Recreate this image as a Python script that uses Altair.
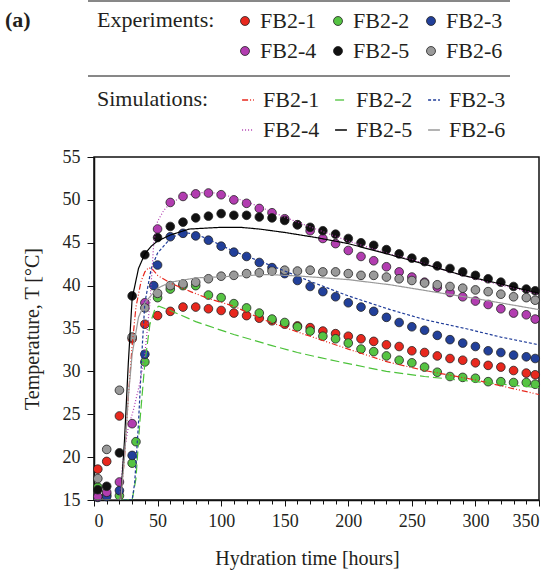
import altair as alt
import pandas as pd

FONT = "Liberation Serif"
TXT = "#231f20"

names = ["FB2-1", "FB2-2", "FB2-3", "FB2-4", "FB2-5", "FB2-6"]
sim_names = ["sim FB2-1", "sim FB2-2", "sim FB2-3", "sim FB2-4", "sim FB2-5", "sim FB2-6"]
colors = ["#e8281e", "#56c443", "#22409a", "#b23db0", "#111111", "#9a9a9a"]
sim_colors = ["#e8281e", "#4cc23a", "#1f3c99", "#b03cb0", "#000000", "#999999"]
dashes = [[6, 2, 1, 2, 1, 2], [9, 4], [3, 2], [1, 2], [1, 0], [1, 0]]

# ---------------- experiments ----------------
h_red = [3, 10, 20, 30, 40, 50, 60, 70, 80, 90, 100, 110, 120, 130, 140, 150, 160, 170, 180, 190, 200,
         210, 220, 230, 240, 250, 260, 270, 280, 290, 300, 310, 320, 330, 340, 347]
t_red = [18.6, 19.5, 24.8, 33.8, 35.5, 36.5, 37.0, 37.5, 37.5, 37.3, 37.1, 36.8, 36.5, 36.2, 35.9, 35.5,
         35.3, 35.1, 34.7, 34.4, 34.1, 33.8, 33.5, 33.1, 32.9, 32.4, 32.2, 31.8, 31.5, 31.3, 31.0, 30.7,
         30.5, 30.1, 29.8, 29.6]

h_green = [3, 10, 20, 30, 33, 40, 50, 60, 70, 80, 90, 100, 110, 120, 130, 140, 150, 160, 170, 180, 190,
           200, 210, 220, 230, 240, 250, 260, 270, 280, 290, 300, 310, 320, 330, 340, 347]
t_green = [16.5, 15.6, 15.5, 19.3, 21.8, 31.1, 38.6, 39.6, 40.0, 40.0, 38.9, 38.6, 37.9, 37.4, 36.8, 36.1,
           35.7, 35.2, 34.7, 34.1, 33.8, 33.3, 32.6, 32.3, 31.8, 31.3, 31.0, 30.5, 29.9, 29.4, 29.3, 29.2,
           28.8, 28.8, 28.7, 28.7, 28.5]

h_blue = [3, 10, 20, 30, 40, 47, 50, 60, 70, 80, 90, 100, 110, 120, 130, 140, 150, 160, 170, 180, 190,
          200, 210, 220, 230, 240, 250, 260, 270, 280, 290, 300, 310, 320, 330, 340, 347]
t_blue = [15.3, 15.4, 16.1, 20.2, 32.0, 40.0, 42.4, 45.7, 46.1, 45.8, 45.3, 44.6, 43.9, 43.4, 42.7, 42.1,
          41.4, 40.6, 39.9, 39.3, 38.7, 38.0, 37.5, 37.0, 36.3, 35.7, 35.2, 34.8, 34.2, 33.7, 33.3, 32.9,
          32.4, 32.2, 31.9, 31.7, 31.5]

h_mag = h_red
t_mag = [15.4, 15.9, 17.1, 23.9, 38.0, 46.6, 49.7, 50.4, 50.7, 50.8, 50.6, 50.0, 49.6, 49.0, 48.5, 47.8,
         47.1, 46.4, 45.5, 44.9, 44.1, 43.4, 42.9, 42.2, 41.6, 41.0, 40.4, 39.8, 39.2, 38.7, 38.2, 37.8,
         37.3, 36.8, 36.6, 36.1]

h_black = h_red
t_black = [16.2, 16.6, 20.5, 38.8, 43.6, 45.6, 46.9, 47.4, 47.9, 48.1, 48.4, 48.2, 48.2, 48.0, 47.9, 47.6,
           47.1, 46.8, 46.4, 46.0, 45.5, 45.0, 44.7, 44.2, 43.7, 43.2, 42.8, 42.3, 42.0, 41.6, 41.2, 40.8,
           40.4, 39.9, 39.6, 39.4]

h_grey = h_red
t_grey = [17.5, 20.9, 27.8, 34.0, 37.4, 39.1, 40.0, 40.2, 40.4, 40.8, 41.1, 41.2, 41.4, 41.5, 41.7, 41.8,
          41.7, 41.8, 41.6, 41.6, 41.4, 41.2, 41.2, 41.0, 40.8, 40.6, 40.3, 40.1, 39.9, 39.7, 39.5, 39.3,
          39.0, 38.7, 38.6, 38.3]

# ---------------- simulations ----------------
sh_red = [0, 21, 24, 27, 30, 33, 37, 40, 43, 46, 50, 60, 76, 90, 110, 132, 160, 200, 231, 260, 300, 350]
st_red = [15, 15, 20, 27, 33, 37.5, 40.5, 41.6, 42.1, 41.9, 41.2, 40.3, 39.3, 38.5, 37.6, 36.1, 34.6,
          32.6, 31.1, 30.1, 29.0, 27.3]

sh_green = [0, 30, 33, 36, 40, 44, 48, 51, 60, 80, 110, 140, 160, 178, 200, 230, 260, 300, 350]
st_green = [15, 15, 17.5, 24, 31, 35.5, 37.3, 37.6, 37.1, 35.8, 34.3, 33.0, 32.2, 31.6, 30.9, 30.0,
            29.4, 28.8, 28.1]

sh_blue = [0, 30, 32, 35, 38, 40, 45, 50, 60, 70, 80, 90, 110, 140, 170, 200, 233, 261, 292, 320, 350]
st_blue = [15, 15, 17, 24, 33, 38, 42, 43.8, 45.5, 46.2, 46.0, 45.4, 44.0, 42.3, 40.5, 38.8, 37.2, 36.0,
           35.0, 34.0, 33.1]

sh_mag = [0, 20, 23, 27, 31, 36, 40, 44, 47, 50, 55, 60, 70, 80, 90, 100, 120, 140, 160, 180, 200, 230,
          253, 280, 300, 325, 350]
st_mag = [15, 15, 20, 23.5, 25.5, 28.6, 32, 38, 45, 47.5, 48.8, 49.6, 50.4, 50.8, 50.9, 50.7, 49.8, 48.6,
          47.4, 46.3, 45.2, 43.8, 42.9, 41.6, 40.8, 39.9, 39.0]

sh_black = [0, 21, 24, 27, 30, 35, 40, 45, 50, 60, 75, 100, 115, 130, 150, 175, 200, 233, 260, 290, 320, 350]
st_black = [15, 15, 22, 31, 38.5, 42, 43.7, 44.6, 45.2, 45.9, 46.6, 46.8, 46.8, 46.6, 46.2, 45.6, 44.9,
            43.6, 42.5, 41.2, 40.2, 39.1]

sh_grey = [0, 21, 24, 27, 30, 35, 40, 50, 60, 80, 110, 137, 163, 200, 233, 270, 300, 350]
st_grey = [15, 15, 20, 27, 32, 36.3, 38.0, 39.7, 40.4, 40.9, 41.1, 41.3, 41.1, 40.7, 40.1, 39.2, 38.5, 37.2]

x_major = [0, 50, 100, 150, 200, 250, 300, 350]
x_minor = [0, 10, 20, 30, 40, 50, 60, 70, 80, 90, 100, 110, 120, 130, 140, 150, 160, 170, 180, 190,
           200, 210, 220, 230, 240, 250, 260, 270, 280, 290, 300, 310, 320, 330, 340, 350]
y_ticks = [15, 20, 25, 30, 35, 40, 45, 50, 55]

exp_h = [h_red, h_green, h_blue, h_mag, h_black, h_grey]
exp_t = [t_red, t_green, t_blue, t_mag, t_black, t_grey]
sim_h = [sh_red, sh_green, sh_blue, sh_mag, sh_black, sh_grey]
sim_t = [st_red, st_green, st_blue, st_mag, st_black, st_grey]

exp_rows = []
for i, n in enumerate(names):
    for hh, tt in zip(exp_h[i], exp_t[i]):
        exp_rows.append({"hours": hh, "temp": tt, "exp": n, "k": i})
exp_df = pd.DataFrame(exp_rows)

sim_rows = []
for i, n in enumerate(sim_names):
    for hh, tt in zip(sim_h[i], sim_t[i]):
        sim_rows.append({"hours": hh, "temp": tt, "sim": n})
sim_df = pd.DataFrame(sim_rows)

xscale = alt.Scale(domain=[0, 350], nice=False, zero=False)
yscale = alt.Scale(domain=[15, 55], nice=False, zero=False)

y_axis = alt.Axis(values=y_ticks, title="Temperature, T [°C]", tickSize=7, labelPadding=7,
                  titlePadding=20, grid=False, labelFont=FONT, labelFontSize=18)

legend_common = dict(orient="none", columns=3, direction="horizontal", titleOrient="left",
                     titleAnchor="start", titleBaseline="top",
                     titleFont=FONT, labelFont=FONT, titleFontSize=22, labelFontSize=22,
                     titleFontWeight="normal", titleColor=TXT, labelColor=TXT,
                     columnPadding=10, rowPadding=8, labelOffset=4, gridAlign="all", labelLimit=300)

points = alt.Chart(exp_df).mark_circle(size=75, opacity=1, stroke="#222222", strokeWidth=0.8).encode(
    x=alt.X("hours:Q", scale=xscale,
            axis=alt.Axis(values=x_major, title="Hydration time [hours]", orient="bottom", tickSize=6,
                          labelPadding=6, grid=False, labelFont=FONT, labelFontSize=18,
                          titleX=213, titleY=64, titleBaseline="alphabetic", titleAlign="center")),
    y=alt.Y("temp:Q", scale=yscale, axis=y_axis),
    fill=alt.Fill("exp:N", scale=alt.Scale(domain=names, range=colors),
                  legend=alt.Legend(title="Experiments:", legendX=3, legendY=-147,
                                    symbolType="circle", symbolSize=80, symbolStrokeColor="#222222",
                                    symbolStrokeWidth=0.8, titlePadding=19, **legend_common)),
    order=alt.Order("k:Q"),
)

leg_sim = alt.Legend(title="Simulations:", legendX=3, legendY=-68, symbolType="stroke",
                     symbolSize=140, symbolStrokeWidth=1.3, titlePadding=28,
                     labelExpr="replace(datum.label, 'sim ', '')", **legend_common)

lines = alt.Chart(sim_df).mark_line(strokeWidth=1.2, clip=True).encode(
    x=alt.X("hours:Q", scale=xscale,
            axis=alt.Axis(values=x_minor, labels=False, title=None, orient="bottom", tickSize=4,
                          domain=False, grid=False)),
    y=alt.Y("temp:Q", scale=yscale, axis=y_axis),
    stroke=alt.Stroke("sim:N", scale=alt.Scale(domain=sim_names, range=sim_colors), legend=leg_sim),
    strokeDash=alt.StrokeDash("sim:N", scale=alt.Scale(domain=sim_names, range=dashes), legend=leg_sim),
)

one = pd.DataFrame({"a": [0]})
rule1 = alt.Chart(one).mark_rule(color="#111111", strokeWidth=1).encode(
    x=alt.value(-6), x2=alt.value(416), y=alt.value(-156))
rule2 = alt.Chart(one).mark_rule(color="#111111", strokeWidth=1).encode(
    x=alt.value(-6), x2=alt.value(416), y=alt.value(-81))
label_a = alt.Chart(one).mark_text(font=FONT, fontSize=22, fontWeight="bold", align="left",
                                   baseline="alphabetic", color=TXT).encode(
    x=alt.value(-89), y=alt.value(-130), text=alt.value("(a)"))

chart = alt.layer(points, lines, rule1, rule2, label_a).resolve_axis(x="independent").properties(
    width=445, height=343,
    autosize=alt.AutoSizeParams(type="none"),
    padding={"left": 94, "top": 157, "right": 15, "bottom": 72},
).configure(
    font=FONT,
).configure_view(stroke="#111111", strokeWidth=1.5).configure_axis(
    labelFont=FONT, titleFont=FONT, labelFontSize=18, titleFontSize=20, titleFontWeight="normal",
    labelColor=TXT, titleColor=TXT, domainColor="#111111", tickColor="#111111", domainWidth=1.5,
    tickWidth=1,
).configure_legend(labelFont=FONT, titleFont=FONT, labelFontSize=22, titleFontSize=22)

chart.save("out.html", embed_options={"renderer": "svg", "actions": False})
